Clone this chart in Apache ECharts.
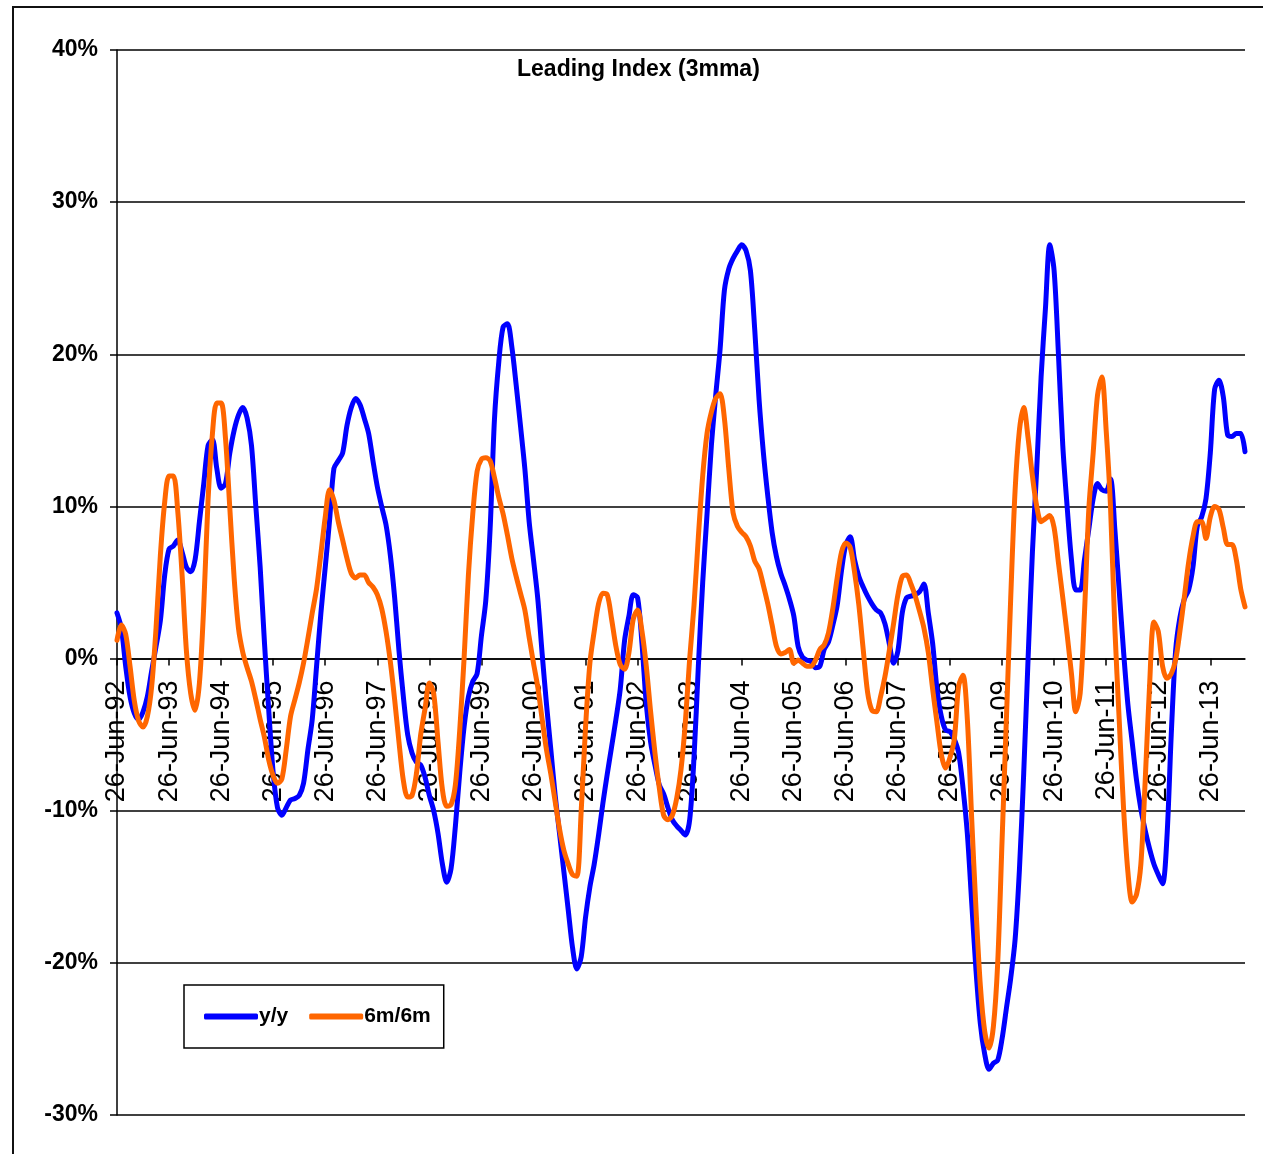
<!DOCTYPE html>
<html>
<head>
<meta charset="utf-8">
<script src="https://cdn.jsdelivr.net/npm/echarts@6/dist/echarts.min.js"></script>
<style>
html,body{margin:0;padding:0;background:#fff;}
#chart{width:1263px;height:1154px;}
</style>
</head>
<body>
<div id="chart"></div>
<script>
// ---- Data (monthly, Jun-92 .. Feb-14), values in % ----
var monthNames = ['Jan','Feb','Mar','Apr','May','Jun','Jul','Aug','Sep','Oct','Nov','Dec'];
var startYear = 1992;
var startMonth = 5; // June
var dayLabel = '26';

var yoy = [
  3.0, 2.0, -0.5, -2.5, -3.6, -4.0, -3.5, -2.5, -0.8, 0.8, 2.5, 5.5,
  7.2, 7.4, 7.8, 7.0, 6.0, 5.7, 6.5, 9.0, 11.5, 14.0, 14.4, 12.5,
  11.2, 11.5, 13.5, 15.0, 16.0, 16.5, 15.8, 14.0, 10.0, 6.0, 1.0, -3.5,
  -7.5, -9.8, -10.3, -9.8, -9.3, -9.2, -9.0, -8.2, -6.0, -4.0, -0.5, 3.0,
  6.0, 9.1, 12.5, 13.0, 13.5, 15.3, 16.5, 17.1, 16.7, 15.8, 14.8, 13.0,
  11.3, 10.0, 8.8, 6.8, 4.0, 0.5, -2.5, -5.0, -6.2, -6.8, -7.0, -7.8,
  -9.0, -10.0, -11.5, -13.5, -14.7, -13.8, -11.0, -7.5, -4.5, -2.5, -1.5, -1.0,
  1.5, 3.8, 8.5, 15.7, 19.5, 21.8, 22.0, 20.5, 18.0, 15.3, 12.5, 9.0,
  6.5, 3.9, 0.3, -3.0, -6.0, -9.0, -11.5, -14.0, -16.5, -19.0, -20.4, -19.6,
  -17.0, -15.0, -13.5, -11.6, -9.5, -7.6, -5.8, -4.0, -2.0, 1.2, 2.8, 4.2,
  4.0, 1.0, -3.0, -5.5, -7.0, -8.3, -8.9, -9.8, -10.6, -11.0, -11.3, -11.6,
  -10.6, -6.5, -0.5, 5.0, 9.5, 14.0, 17.3, 20.3, 24.2, 25.6, 26.3, 26.8,
  27.2, 26.8, 25.5, 21.6, 17.0, 13.5, 10.7, 8.3, 6.7, 5.6, 4.8, 3.9,
  2.8, 0.8, 0.1, -0.1, -0.2, -0.6, -0.5, 0.6, 1.1, 2.2, 3.5, 5.8,
  7.5, 8.0, 6.5, 5.4, 4.7, 4.1, 3.6, 3.2, 3.0, 2.3, 1.0, -0.3,
  0.5, 3.0, 4.0, 4.1, 4.2, 4.4, 4.9, 3.0, 1.0, -2.0, -3.8, -4.7,
  -4.8, -5.3, -6.2, -8.5, -11.5, -16.0, -20.5, -24.0, -26.0, -27.0, -26.6, -26.4,
  -25.0, -23.0, -21.0, -18.5, -13.9, -7.5, 0.0, 7.0, 12.5, 18.5, 23.0, 27.2,
  25.5, 20.0, 14.0, 10.0, 6.5, 4.5, 4.5, 6.5, 8.5, 10.5, 11.5, 11.1,
  11.0, 11.8, 8.5, 4.5, 0.5, -3.0, -5.5, -8.0, -9.9, -11.3, -12.5, -13.5,
  -14.2, -14.8, -11.8, -5.0, 0.5, 2.7, 3.9, 4.5, 6.0, 8.7, 9.3, 10.5,
  13.5, 17.7, 18.3, 17.2, 14.7, 14.6, 14.8, 14.8, 13.6
];

var sixOnSix = [
  1.2, 2.2, 1.6, -0.5, -2.8, -4.1, -4.5, -3.8, -1.8, 2.0, 6.8, 10.3,
  12.0, 12.0, 9.7, 5.5, 0.5, -2.3, -3.4, -1.6, 3.5, 10.5, 14.8, 16.8,
  16.8, 14.5, 9.9, 5.3, 2.0, 0.4, -0.6, -1.5, -2.7, -4.0, -5.2, -6.7,
  -7.7, -8.2, -7.9, -6.0, -3.8, -2.7, -1.6, -0.3, 1.3, 3.0, 4.6, 6.9,
  9.3, 11.1, 10.4, 9.0, 7.8, 6.6, 5.6, 5.3, 5.5, 5.5, 5.0, 4.7,
  4.2, 3.3, 1.8, -0.2, -2.7, -5.5, -8.0, -9.1, -9.0, -7.6, -5.0, -3.3,
  -1.6, -2.3, -5.5, -8.6, -9.7, -9.6, -8.3, -4.7, 0.0, 5.5, 9.5, 12.3,
  13.1, 13.2, 13.0, 11.9, 10.6, 9.5, 8.1, 6.6, 5.4, 4.3, 3.2, 1.4,
  -0.3, -1.9, -4.0, -6.0, -7.6, -9.4, -11.2, -12.6, -13.5, -14.2, -14.3, -10.0,
  -4.5, -0.3, 1.8, 3.6, 4.3, 4.2, 2.6, 0.8, -0.4, -0.7, 0.4, 2.6,
  3.2, 1.8, -0.5, -3.5, -6.2, -8.5, -10.3, -10.6, -10.3, -9.2, -7.3, -4.2,
  0.0, 3.5, 8.0, 12.0, 14.8, 16.2, 17.1, 17.4, 15.8, 12.5, 9.6, 8.7,
  8.3, 8.0, 7.4, 6.4, 5.9, 4.8, 3.6, 2.2, 0.8, 0.3, 0.4, 0.6,
  -0.3, -0.1, -0.3, -0.5, -0.5, -0.1, 0.6, 0.9, 1.7, 3.3, 5.3, 7.0,
  7.6, 7.3, 5.7, 3.5, 0.6, -2.2, -3.4, -3.5, -2.5, -1.2, 0.5, 2.3,
  4.2, 5.4, 5.5, 4.9, 4.1, 3.1, 2.0, 0.4, -2.0, -4.2, -6.3, -7.2,
  -6.5, -5.3, -1.8, -1.1, -4.0, -10.5, -16.5, -21.5, -24.5, -25.6, -24.2, -20.0,
  -12.0, -4.0, 4.0, 11.0, 15.0, 16.5, 14.5, 12.0, 10.0, 9.0, 9.2, 9.4,
  8.6, 6.3, 4.0, 1.6, -1.0, -3.5, -2.3, 3.0, 9.8, 13.5, 17.3, 18.5,
  15.0, 10.0, 2.0, -4.0, -9.8, -14.0, -16.0, -15.5, -13.5, -8.0, -1.8, 2.4,
  1.8, -0.5, -1.3, -1.0, -0.1, 1.8, 4.0, 6.3, 8.0, 9.0, 9.0, 7.9,
  9.3, 10.0, 9.8, 8.6, 7.5, 7.5, 6.5, 4.6, 3.4
];

var seriesNames = ['y/y', '6m/6m'];
var titleText = 'Leading Index (3mma)';
var yMin = -30, yMax = 40, yStep = 10;

// category labels built from the start date
var categories = [];
for (var i = 0; i < yoy.length; i++) {
  var mi = (startMonth + i) % 12;
  var yr = startYear + Math.floor((startMonth + i) / 12);
  categories.push(dayLabel + '-' + monthNames[mi] + '-' + String(yr % 100).padStart(2, '0'));
}

var boldFont = "'Liberation Sans', Arial, sans-serif";

var gridTop = 50, gridBottom = 39, chartH = 1154;
// distance from grid bottom up to the zero line (x axis crosses at 0)
var plotH = chartH - gridTop - gridBottom;
var zeroOffset = -plotH * (0 - yMin) / (yMax - yMin);

var chart = echarts.init(document.getElementById('chart'), null, {renderer: 'canvas'});
chart.setOption({
  animation: false,
  backgroundColor: '#ffffff',
  title: {
    text: titleText,
    left: 517,
    top: 58,
    padding: 0,
    textStyle: {fontFamily: boldFont, fontWeight: 'bold', fontSize: 23, color: '#000'}
  },
  legend: {
    data: seriesNames,
    left: 184,
    top: 985,
    orient: 'horizontal',
    backgroundColor: '#fff',
    borderColor: '#000',
    borderWidth: 1.5,
    padding: [21, 13, 21, 20],
    itemWidth: 54,
    itemHeight: 6,
    itemGap: 21,
    icon: 'roundRect',
    zlevel: 1,
    z: 10,
    textStyle: {fontFamily: boldFont, fontWeight: 'bold', fontSize: 21, color: '#000', padding: [0, 0, 0, -4]}
  },
  grid: {left: 117, right: 18, top: gridTop, bottom: gridBottom, containLabel: false, outerBoundsMode: 'none'},
  xAxis: {
    type: 'category',
    data: categories,
    boundaryGap: false,
    position: 'bottom',
    offset: zeroOffset,
    axisLine: {onZero: false, lineStyle: {color: '#000', width: 1.5}},
    axisTick: {show: true, interval: 11, length: 7, lineStyle: {color: '#000', width: 1.5}},
    axisLabel: {
      interval: 11,
      rotate: 90,
      margin: 22,
      hideOverlap: false,
      fontFamily: "'Liberation Sans', Arial, sans-serif",
      fontSize: 27,
      color: '#000'
    },
    splitLine: {show: false}
  },
  yAxis: {
    type: 'value',
    min: yMin,
    max: yMax,
    interval: yStep,
    axisLine: {show: true, onZero: false, lineStyle: {color: '#000', width: 1.5}},
    axisTick: {show: true, length: 7, lineStyle: {color: '#000', width: 1.5}},
    axisLabel: {
      formatter: '{value}%',
      margin: 19,
      fontFamily: boldFont,
      fontWeight: 'bold',
      fontSize: 23,
      color: '#000'
    },
    splitLine: {show: true, lineStyle: {color: '#000', width: 1.5}}
  },
  series: [
    {
      name: seriesNames[0],
      type: 'line',
      data: yoy,
      zlevel: 1,
      z: 2,
      showSymbol: false,
      symbol: 'none',
      smooth: 0.3,
      color: '#0000FF',
      lineStyle: {color: '#0000FF', width: 5, cap: 'round', join: 'round'}
    },
    {
      name: seriesNames[1],
      type: 'line',
      data: sixOnSix,
      zlevel: 1,
      z: 3,
      showSymbol: false,
      symbol: 'none',
      smooth: 0.3,
      color: '#FF6600',
      lineStyle: {color: '#FF6600', width: 5, cap: 'round', join: 'round'}
    }
  ],
  graphic: [
    {
      type: 'polyline',
      silent: true,
      shape: {points: [[13, 1160], [13, 7], [1270, 7]]},
      style: {stroke: '#111', lineWidth: 2, fill: null}
    }
  ]
});
</script>
</body>
</html>
